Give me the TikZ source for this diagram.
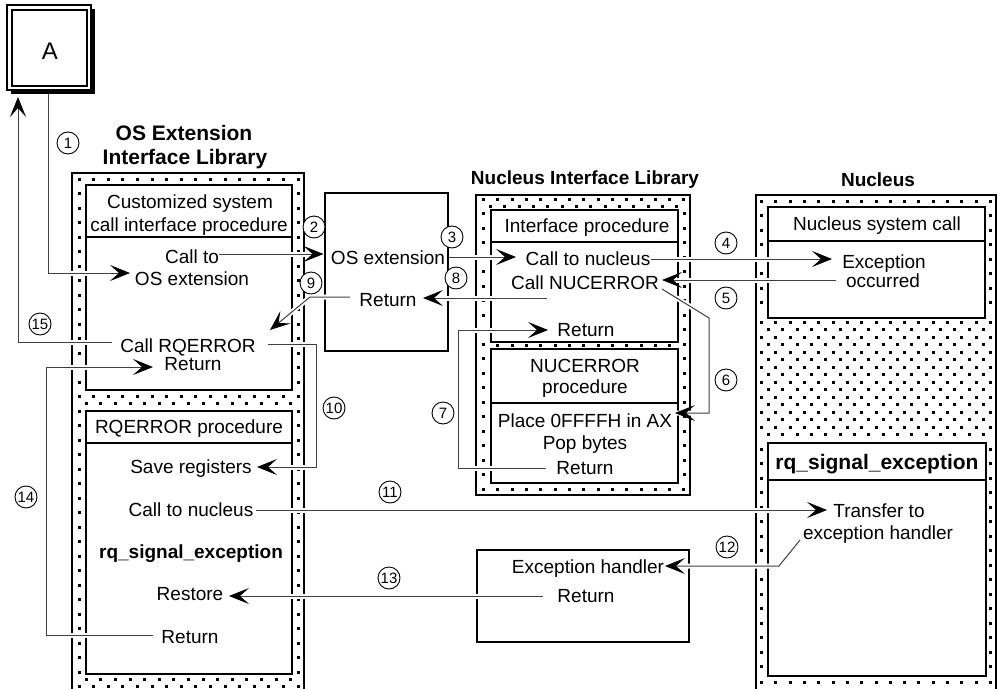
\documentclass[tikz,border=0pt]{standalone}
\usepackage{fontspec}
\setmainfont{Liberation Sans}
\usetikzlibrary{arrows.meta}
\newcommand\fsz[1]{\fontsize{#1}{#1}\selectfont}
\newcommand\sqrow[4]{%
  \pgfmathsetmacro\sqnx{#2+#3}%
  \foreach \sqx in {#2,\sqnx,...,#4}{\fill ({\sqx-1.5},{#1-1.5}) rectangle ++(3,3);}}
\newcommand\sqcol[4]{%
  \pgfmathsetmacro\sqny{#2+#3}%
  \foreach \sqy in {#2,\sqny,...,#4}{\fill ({#1-1.5},{\sqy-1.5}) rectangle ++(3,3);}}
\begin{document}
\begin{tikzpicture}[x=1pt,y=-1pt,
  colb/.style={line width=1.5pt, draw=black},
  wbox/.style={draw=black, line width=1.5pt, fill=white, inner sep=0pt, outer sep=0pt},
  conn/.style={draw=black!75, line width=1pt, -{Stealth[length=20pt,width=16pt,inset=9pt,color=black]}, preaction={draw=white, line width=5pt, -}},
  txt/.style={inner sep=0pt, font=\fsz{19}, text height=13.6pt, text depth=0pt},
  btxt/.style={inner sep=0pt, font=\fsz{19}\bfseries, text height=13.6pt, text depth=0pt},
  bigb/.style={inner sep=0pt, font=\fsz{21}\bfseries, text height=15pt, text depth=0pt},
  num/.style={circle, draw=black, line width=0.9pt, fill=white, minimum size=22pt, inner sep=0pt, font=\fsz{15}},
]
\useasboundingbox (0,0) rectangle (998,688);

% ---------- dotted fills ----------
% OS Extension Interface Library column
\sqrow{179}{79}{14.6}{298.5}
\sqcol{79}{193.5}{14.5}{675}
\sqcol{298}{193.5}{14.5}{675}
\sqrow{396.5}{79}{14.6}{298.5}
\sqrow{403.75}{86.3}{14.6}{292}
\sqrow{679.25}{86.3}{14.6}{292}
\sqrow{686.5}{79}{14.6}{298.5}
% Nucleus Interface Library column
\sqrow{199}{483.5}{14.32}{684.5}
\sqrow{206}{490.66}{14.32}{678}
\sqcol{483.5}{213.5}{14.5}{476}
\sqcol{684}{213.5}{14.5}{476}
\sqrow{345.5}{497.82}{14.32}{670}
\sqrow{489}{483.5}{14.32}{684.5}
% Nucleus column
\sqrow{201}{761.5}{14.3125}{991}
\sqcol{761.5}{215.5}{14.5}{316}
\sqcol{990.5}{215.5}{14.5}{316}
\foreach \r in {0,...,15}{
  \pgfmathsetmacro\yy{322+7.5*\r}
  \pgfmathsetmacro\xs{761.5+7.156*mod(\r,2)}
  \sqrow{\yy}{\xs}{14.3125}{991}
}
\sqcol{761.5}{449}{14.5}{672}
\sqcol{990.5}{449}{14.5}{672}
\sqrow{682}{761.5}{14.3125}{991}

% ---------- column borders ----------
\draw[colb] (72,692) -- (72,173) -- (304,173) -- (304,692);
\draw[colb] (476,195) rectangle (690,495);
\draw[colb] (756,692) -- (756,195) -- (996,195) -- (996,692);

% ---------- boxes ----------
\fill[black] (11,9) rectangle (95,94);
\node[wbox, line width=1.4pt, minimum width=84pt, minimum height=85pt, anchor=north west] (Abox) at (7,5) {};
\draw[line width=1.2pt] (12,10) rectangle (87,86);

\node[wbox, minimum width=206pt, minimum height=205pt, anchor=north west] (lb1) at (86,185) {};
\node[wbox, minimum width=206pt, minimum height=263pt, anchor=north west] (lb2) at (86,411) {};
\draw[colb] (86,237) -- (292,237);
\draw[colb] (86,443) -- (292,443);

\node[wbox, minimum width=123pt, minimum height=158pt, anchor=north west] (osbox) at (325,193) {};

\node[wbox, minimum width=187pt, minimum height=132pt, anchor=north west] (mb1) at (491,210) {};
\node[wbox, minimum width=187pt, minimum height=134pt, anchor=north west] (mb2) at (491,349) {};
\draw[colb] (491,242) -- (678,242);
\draw[colb] (491,403) -- (678,403);

\node[wbox, minimum width=212pt, minimum height=92pt, anchor=north west] (exbox) at (477,550) {};

\node[wbox, minimum width=217pt, minimum height=111pt, anchor=north west] (nb1) at (768,207) {};
\node[wbox, minimum width=218pt, minimum height=233pt, anchor=north west] (nb2) at (768,443) {};
\draw[colb] (768,241) -- (986,241);
\draw[colb] (768,480) -- (986,480);

% ---------- connector points ----------
\coordinate (c1a) at (48,94);   \coordinate (c1b) at (48,273);  \coordinate (c1c) at (130,273);
\coordinate (c2a) at (219,254); \coordinate (c2b) at (323.5,254);
\coordinate (c3a) at (448.8,257); \coordinate (c3b) at (516,257);
\coordinate (c4a) at (651,259); \coordinate (c4b) at (832,259);
\coordinate (c5a) at (836,280); \coordinate (c5b) at (662,280);
\coordinate (c6a) at (662,289); \coordinate (c6b) at (709,318); \coordinate (c6c) at (709,413); \coordinate (c6d) at (675,413);
\coordinate (c7a) at (546,468); \coordinate (c7b) at (458,468); \coordinate (c7c) at (458,330); \coordinate (c7d) at (548,330);
\coordinate (c8a) at (547,298); \coordinate (c8b) at (423,298);
\coordinate (c9a) at (350,297); \coordinate (c9b) at (310,297); \coordinate (c9c) at (270,330);
\coordinate (c10a) at (268,344); \coordinate (c10b) at (316,344); \coordinate (c10c) at (316,467); \coordinate (c10d) at (257,467);
\coordinate (c11a) at (256,510); \coordinate (c11b) at (827,510);
\coordinate (c12a) at (800,540); \coordinate (c12b) at (779,566); \coordinate (c12c) at (665,566);
\coordinate (c13a) at (543,596); \coordinate (c13b) at (229,596);
\coordinate (c14a) at (153,635); \coordinate (c14b) at (46,635); \coordinate (c14c) at (46,367); \coordinate (c14d) at (153,367);
\coordinate (c15a) at (112,342); \coordinate (c15b) at (18,342); \coordinate (c15c) at (18,97);

% ---------- connectors ----------
\draw[conn] (c1a) -- (c1b) -- (c1c);
\draw[conn] (c2a) -- (c2b);
\draw[conn] (c3a) -- (c3b);
\draw[conn] (c4a) -- (c4b);
\draw[conn] (c5a) -- (c5b);
\draw[conn] (c6a) -- (c6b) -- (c6c) -- (c6d);
\draw[conn] (c7a) -- (c7b) -- (c7c) -- (c7d);
\draw[conn] (c8a) -- (c8b);
\draw[conn] (c9a) -- (c9b) -- (c9c);
\draw[conn] (c10a) -- (c10b) -- (c10c) -- (c10d);
\draw[conn] (c11a) -- (c11b);
\draw[conn] (c12a) -- (c12b) -- (c12c);
\draw[conn] (c13a) -- (c13b);
\draw[conn] (c14a) -- (c14b) -- (c14c) -- (c14d);
\draw[conn] (c15a) -- (c15b) -- (c15c);

% ---------- texts ----------
\node[inner sep=0pt, font=\fsz{24}, text height=17pt, text depth=0pt] (tA) at (50,51) {A};

\node[bigb] (h1a) at (184,133) {OS Extension};
\node[bigb] (h1b) at (185,157) {Interface Library};
\node[btxt] (h2) at (585,178) {Nucleus Interface Library};
\node[btxt] (h3) at (878,180) {Nucleus};

\node[txt] (l1) at (190,202) {Customized system};
\node[txt] (l2) at (189,225) {call interface procedure};
\node[txt] (l3) at (192,257) {Call to};
\node[txt] (l4) at (192,279) {OS extension};
\node[txt] (l5) at (188,346) {Call RQERROR};
\node[txt] (l6) at (193,364) {Return};
\node[txt] (l7) at (189,427) {RQERROR procedure};
\node[txt] (l8) at (191,467) {Save registers};
\node[txt] (l9) at (191,510) {Call to nucleus};
\node[btxt] (l10) at (191,552) {rq\_signal\_exception};
\node[txt] (l11) at (190,594) {Restore};
\node[txt] (l12) at (190,637) {Return};

\node[txt] (o1) at (388,258) {OS extension};
\node[txt] (o2) at (388,300) {Return};

\node[txt] (m1) at (587,226) {Interface procedure};
\node[txt] (m2) at (588,259) {Call to nucleus};
\node[txt] (m3) at (585,283) {Call NUCERROR};
\node[txt] (m4) at (586,330) {Return};
\node[txt] (m5) at (585,366) {NUCERROR};
\node[txt] (m6) at (585,387) {procedure};
\node[txt] (m7) at (585,421) {Place 0FFFFH in AX};
\node[txt] (m8) at (585,443) {Pop bytes};
\node[txt] (m9) at (585,468) {Return};

\node[txt] (e1) at (588,567) {Exception handler};
\node[txt] (e2) at (586,596) {Return};

\node[txt] (k1) at (877,224) {Nucleus system call};
\node[txt] (k2) at (884,262) {Exception};
\node[txt] (k3) at (883,281) {occurred};
\node[bigb] (k4) at (877,462) {rq\_signal\_exception};
\node[txt] (k5) at (879,511) {Transfer to};
\node[txt] (k6) at (878,533) {exception handler};

% ---------- step numbers ----------
\node[num] (n1) at (68,143) {1};
\node[num] (n2) at (314,227) {2};
\node[num] (n3) at (452,237) {3};
\node[num] (n4) at (726,243) {4};
\node[num] (n5) at (726,298) {5};
\node[num] (n6) at (726,380) {6};
\node[num] (n7) at (443,413) {7};
\node[num] (n8) at (456,278) {8};
\node[num] (n9) at (311,283) {9};
\node[num] (n10) at (334,408) {10};
\node[num] (n11) at (390,492) {11};
\node[num] (n12) at (727,547) {12};
\node[num] (n13) at (389,578) {13};
\node[num] (n14) at (26,497) {14};
\node[num] (n15) at (40,324) {15};
\end{tikzpicture}
\end{document}
